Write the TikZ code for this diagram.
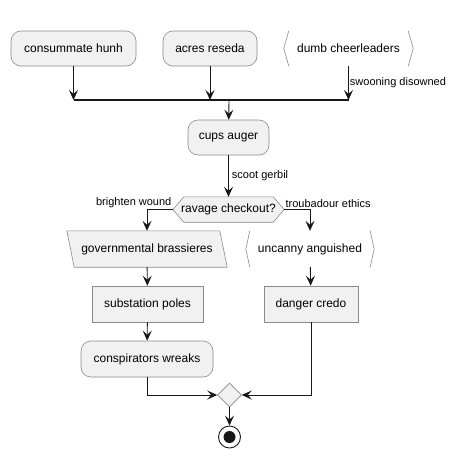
\documentclass[tikz,border=0pt]{standalone}
\usepackage{fontspec}
\setmainfont{Liberation Sans}
\usetikzlibrary{arrows.meta,shapes.geometric,backgrounds}
\definecolor{boxfill}{HTML}{F1F1F1}
\definecolor{ink}{HTML}{181818}
\definecolor{edge}{HTML}{8A8A8A}
\tikzset{
  every node/.style={font=\fontsize{12}{14}\selectfont, inner sep=0pt},
  roundbox/.style={draw=edge, fill=boxfill, line width=0.6pt, rounded corners=10pt, minimum height=35pt},
  plainbox/.style={draw=edge, fill=boxfill, line width=0.6pt, minimum height=36pt},
  bare/.style={minimum height=36pt},
  lbl/.style={font=\fontsize{11}{13}\selectfont, inner sep=1pt},
  arr/.style={draw=ink, line width=0.9pt, -{Stealth[length=10pt,width=9pt,inset=4pt]}},
  conn/.style={draw=ink, line width=0.9pt},
  outline/.style={draw=edge, line width=0.6pt},
}
\begin{document}
\begin{tikzpicture}[x=1pt,y=-1pt]
\useasboundingbox (0,0) rectangle (462,459);

% top row
\node[roundbox, minimum width=125pt] (c1) at (73.5,48.5) {consummate hunh};
\node[roundbox, minimum width=94pt] (c2) at (210,48.5) {acres reseda};
\node[bare, minimum width=129pt, minimum height=35pt] (c3) at (348.5,48.5) {dumb cheerleaders};

% bar
\coordinate (barL) at (73.5,100);
\coordinate (barR) at (348.5,100);
\coordinate (barM) at (229,100);

\node[roundbox, minimum width=81pt] (a1) at (228.5,137.5) {cups auger};
\node[minimum width=111pt, minimum height=25pt] (dec) at (228.5,209.5) {ravage checkout?};

\node[minimum width=160pt, minimum height=36pt] (g) at (147,249) {governmental brassieres};
\node[bare, minimum width=128pt] (u) at (310,249) {uncanny anguished};

\node[plainbox, minimum width=111pt] (s) at (147.5,304) {substation poles};
\node[plainbox, minimum width=94pt] (dc) at (311,304) {danger credo};

\node[roundbox, minimum width=132pt, minimum height=36pt] (cw) at (147,359) {conspirators wreaks};

\node[diamond, draw=edge, fill=boxfill, line width=0.6pt, minimum width=24pt, minimum height=24pt] (m) at (229.5,395) {};
\node[circle, draw=ink, line width=0.9pt, fill=white, minimum size=22pt] (stop) at (229.5,437) {};
\fill[ink] (stop.center) circle (6pt);

% shapes drawn behind the text
\begin{pgfonlayer}{background}
  \draw[outline] ([xshift=5pt]c3.north west) -- (c3.west) -- ([xshift=5pt]c3.south west);
  \draw[outline] ([xshift=-5pt]c3.north east) -- (c3.east) -- ([xshift=-5pt]c3.south east);
  \draw[outline] ([xshift=4pt]u.north west) -- (u.west) -- ([xshift=4pt]u.south west);
  \draw[outline] ([xshift=-4pt]u.north east) -- (u.east) -- ([xshift=-4pt]u.south east);
  \filldraw[outline, fill=boxfill] ([xshift=11pt]dec.north west) -- (dec.west) -- ([xshift=11pt]dec.south west)
     -- ([xshift=-11pt]dec.south east) -- (dec.east) -- ([xshift=-11pt]dec.north east) -- cycle;
  \filldraw[outline, fill=boxfill] ([xshift=0pt]g.north west) -- ([xshift=153pt]g.north west)
     -- ([xshift=0pt]g.south east) -- ([xshift=-153pt]g.south east) -- cycle;
\end{pgfonlayer}

% connectors
\draw[arr] (c1) -- (c1 |- barL);
\draw[arr] (c2) -- (c2 |- barL);
\draw[arr] (c3) -- node[lbl, right, pos=0.5] {swooning disowned} (c3 |- barR);
\draw[conn, line width=1.6pt] (barL) -- (barR);
\draw[arr] (barM) -- (a1);
\draw[arr] (a1) -- node[lbl, right, xshift=2pt] {scoot gerbil} (dec);
\draw[arr] (dec.west) node[lbl, above left] {brighten wound} -| (g.north);
\draw[arr] (dec.east) node[lbl, above right] {troubadour ethics} -| (u.north);
\draw[arr] (g) -- (s);
\draw[arr] (u) -- (dc);
\draw[arr] (s) -- (cw);
\draw[arr] (cw.south) |- (m.west);
\draw[arr] (dc.south) |- (m.east);
\draw[arr] (m) -- (stop);
\end{tikzpicture}
\end{document}
